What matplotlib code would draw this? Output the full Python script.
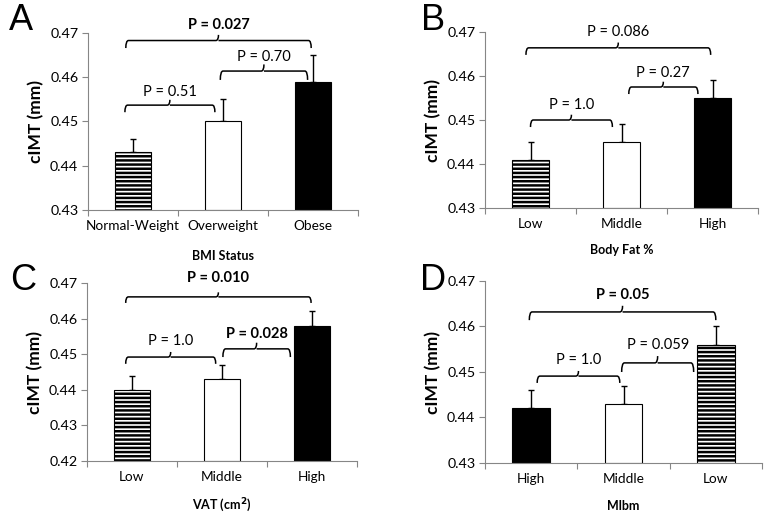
import matplotlib
matplotlib.use('Agg')
import matplotlib.pyplot as plt
from matplotlib.path import Path
from matplotlib.patches import PathPatch

plt.rcParams['font.family'] = ['Lato', 'DejaVu Sans']
plt.rcParams['hatch.linewidth'] = 1.8

# data
bmi_labels = ['Normal-Weight', 'Overweight', 'Obese']
bmi_means = [0.443, 0.450, 0.459]
bmi_err = [0.003, 0.005, 0.006]

fat_labels = ['Low', 'Middle', 'High']
fat_means = [0.441, 0.445, 0.455]
fat_err = [0.004, 0.004, 0.004]

vat_labels = ['Low', 'Middle', 'High']
vat_means = [0.440, 0.443, 0.458]
vat_err = [0.004, 0.004, 0.004]

mlbm_labels = ['High', 'Middle', 'Low']
mlbm_means = [0.442, 0.443, 0.456]
mlbm_err = [0.004, 0.004, 0.004]

# (x0, x1, y, drop, label, bold, text y)
bmi_p = [(-0.09, 0.91, 0.4537, 0.0016, 'P = 0.51', False, 0.4567),
         (0.97, 1.94, 0.4614, 0.0020, 'P = 0.70', False, 0.4646),
         (-0.08, 1.98, 0.4683, 0.0017, 'P = 0.027', True, 0.4718)]
fat_p = [(0.0, 0.90, 0.4500, 0.0016, 'P = 1.0', False, 0.4534),
         (1.08, 1.84, 0.4575, 0.0016, 'P = 0.27', False, 0.4607),
         (-0.05, 1.98, 0.4664, 0.0016, 'P = 0.086', False, 0.4700)]
vat_p = [(-0.07, 0.93, 0.4492, 0.0019, 'P = 1.0', False, 0.4537),
         (1.01, 1.76, 0.4515, 0.0023, 'P = 0.028', True, 0.4557),
         (-0.07, 1.99, 0.4661, 0.0017, 'P = 0.010', True, 0.4714)]
mlbm_p = [(0.065, 0.96, 0.4491, 0.0015, 'P = 1.0', False, 0.4526),
          (0.98, 1.76, 0.4520, 0.0020, 'P = 0.059', False, 0.4560),
          (-0.02, 2.00, 0.4632, 0.0018, 'P = 0.05', True, 0.4670)]

GRAY = '#868686'


def brace(ax, x0, x1, y, drop, label, bold, ty):
    xm = (x0 + x1) / 2
    rx = 0.03
    verts = [(x0, y - drop), (x0, y), (x0 + rx, y),
             (xm - rx, y), (xm, y), (xm, y + drop * 0.75),
             (xm, y), (xm + rx, y),
             (x1 - rx, y), (x1, y), (x1, y - drop)]
    codes = [Path.MOVETO, Path.CURVE3, Path.CURVE3,
             Path.LINETO, Path.CURVE3, Path.CURVE3,
             Path.MOVETO, Path.LINETO,
             Path.LINETO, Path.CURVE3, Path.CURVE3]
    ax.add_patch(PathPatch(Path(verts, codes), fill=False, lw=1.1,
                           color='black', clip_on=False))
    ax.text(xm, ty, label, ha='center', va='center', fontsize=10.5,
            fontweight='bold' if bold else 'normal', clip_on=False)


def panel(ax, labels, means, errs, styles, ylo, xlabel, xpad, pvals, letter, lpos):
    x = range(len(means))
    for i in x:
        fc, hatch = styles[i]
        ax.bar(i, means[i] - ylo, bottom=ylo, width=0.41, color=fc,
               edgecolor='black', linewidth=0.8, hatch=hatch, zorder=2)
    ax.errorbar(list(x), means, yerr=[[0] * len(errs), errs], fmt='none',
                ecolor='black', elinewidth=1.0, capsize=2.5, capthick=1.0,
                zorder=1)
    ax.set_xlim(-0.5, 2.5)
    ax.set_ylim(ylo, 0.47)
    ax.set_yticks([round(ylo + 0.01 * k, 2) for k in range(int(round((0.47 - ylo) / 0.01)) + 1)])
    ax.set_yticklabels(['%.2f' % t for t in ax.get_yticks()])
    ax.set_xticks([-0.5, 0.5, 1.5, 2.5])
    ax.set_xticklabels([])
    ax.set_xticks(list(x), labels, minor=True)
    ax.tick_params(axis='x', which='minor', length=0, pad=7, labelsize=9.8)
    ax.tick_params(axis='x', which='major', length=4, color=GRAY)
    ax.tick_params(axis='y', length=4, color=GRAY, labelsize=10.3, pad=3)
    for s in ['top', 'right']:
        ax.spines[s].set_visible(False)
    for s in ['left', 'bottom']:
        ax.spines[s].set_color(GRAY)
    ax.set_ylabel('cIMT (mm)', fontsize=12.5, fontweight='bold', labelpad=4)
    ax.set_xlabel(xlabel, fontsize=9, fontweight='bold', labelpad=xpad)
    for p in pvals:
        brace(ax, *p)
    ax.figure.text(lpos[0], lpos[1], letter, fontsize=26,
                   family='Liberation Sans', ha='center', va='center')


fig = plt.figure(figsize=(7.71, 5.17), dpi=100)
W, H = 771.0, 517.0
axA = fig.add_axes([88 / W, 1 - 210 / H, 270 / W, 177 / H])
axB = fig.add_axes([485 / W, 1 - 208 / H, 273 / W, 176 / H])
axC = fig.add_axes([87 / W, 1 - 461 / H, 270 / W, 178 / H])
axD = fig.add_axes([485 / W, 1 - 463 / H, 277 / W, 182 / H])

stripe = ('white', '----')
white = ('white', None)
black = ('black', None)

panel(axA, bmi_labels, bmi_means, bmi_err, [stripe, white, black], 0.43,
      'BMI Status', 13, bmi_p, 'A', (21 / W, 1 - 21 / H))
panel(axB, fat_labels, fat_means, fat_err, [stripe, white, black], 0.43,
      'Body Fat %', 10, fat_p, 'B', (433 / W, 1 - 21 / H))
panel(axC, vat_labels, vat_means, vat_err, [stripe, white, black], 0.42,
      'VAT (cm$^\\mathbf{2}$)', 10, vat_p, 'C', (23 / W, 1 - 281 / H))
panel(axD, mlbm_labels, mlbm_means, mlbm_err, [black, white, stripe], 0.43,
      'Mlbm', 11, mlbm_p, 'D', (433 / W, 1 - 280 / H))

fig.savefig('out.png', dpi=100)
